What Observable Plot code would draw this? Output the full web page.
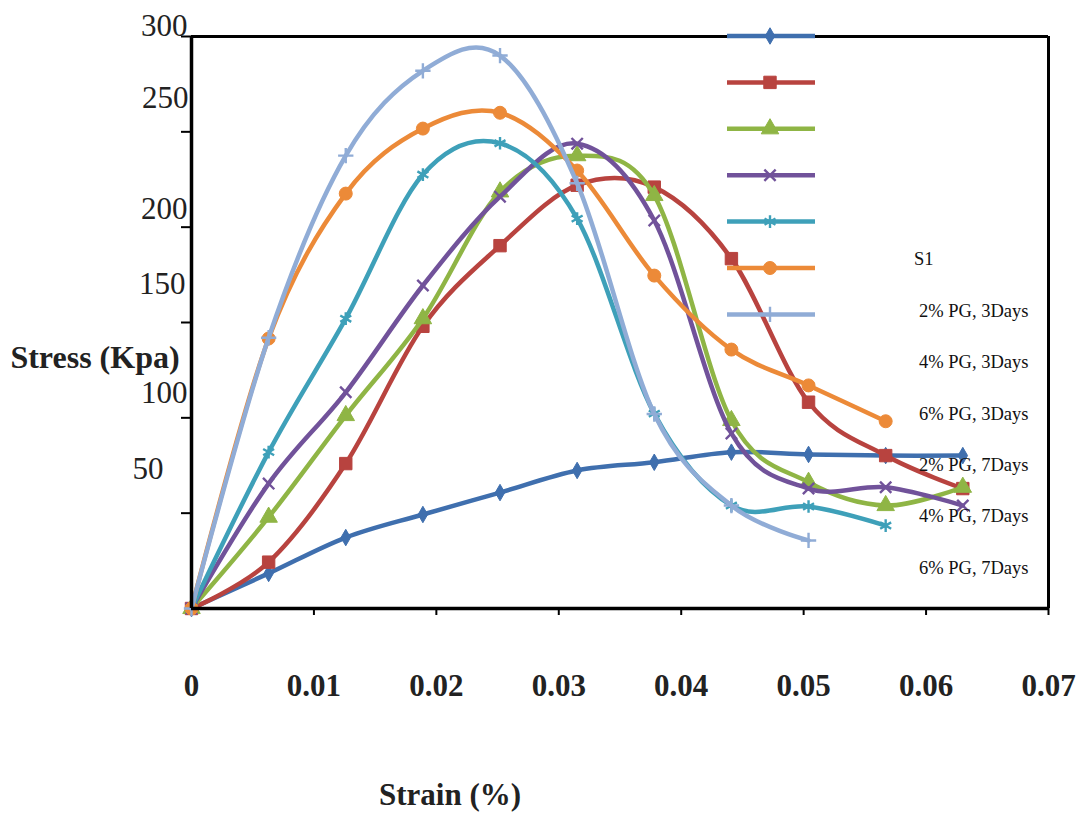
<!DOCTYPE html>
<html><head><meta charset="utf-8">
<script src="https://cdn.jsdelivr.net/npm/d3@7"></script>
<script src="https://cdn.jsdelivr.net/npm/@observablehq/plot@0.6"></script>
<style>body{margin:0;background:#fff} #chart{width:1081px;height:813px}</style>
</head><body><div id="chart"></div>
<script>
// ---- data ----
const strain = [0, 0.0063, 0.0126, 0.0189, 0.0252, 0.0315, 0.0378, 0.0441, 0.0504, 0.0567, 0.063];
const seriesNames = ["S1", "2% PG, 3Days", "4% PG, 3Days", "6% PG, 3Days", "2% PG, 7Days", "4% PG, 7Days", "6% PG, 7Days"];
const sS1   = [0, 18.4, 37.2, 49.3, 60.8, 72.4, 76.7, 82, 80.8, 80.2, 80.2];
const s2PG3 = [0, 24.3, 76, 148, 190.3, 222, 221, 183.5, 108.2, 80.2, 62.9];
const s4PG3 = [0, 47.9, 101.2, 152, 218.5, 237.5, 216.6, 98.6, 66.2, 54, 63.6];
const s6PG3 = [0, 65.5, 113.4, 169.4, 216, 243.8, 203.5, 91.8, 62.9, 63.6, 54];
const s2PG7 = [0, 82, 152, 227.6, 244, 204.5, 102.2, 54, 53.5, 43.5];
const s4PG7 = [0, 141.6, 217.6, 251.7, 260, 229.7, 174.6, 135.8, 117, 98.2];
const s6PG7 = [0, 142, 237.5, 282, 290, 223, 102, 54, 35.7];
const xTicks = [0, 0.01, 0.02, 0.03, 0.04, 0.05, 0.06, 0.07];
const yTicks = [50, 100, 150, 200, 250, 300];
const xTitle = "Strain (%)";
const yTitle = "Stress (Kpa)";

// ---- styles / layout ----
const seriesValues = [sS1, s2PG3, s4PG3, s6PG3, s2PG7, s4PG7, s6PG7];
const colors  = ["#3f6fae", "#b8433f", "#8fb545", "#71529a", "#3ea0b9", "#ec8a38", "#90acd6"];
const symbols = ["diamond", "square", "triangle", "times", "asterisk", "circle", "plus"];
const filled  = [true, true, true, false, false, true, false];
const radii   = [5, 7, 6.5, 5.2, 6, 6.5, 5];
// irregular tick label placement seen in the reference (right edge offset, vertical offset)
const yLabelDx = [-28, -4, -6, -4, -3, -4];
const yLabelDy = [-44, -24.5, -38, -18, -33.5, -10.5];
const serif = "'Liberation Serif', 'Times New Roman', serif";

const rows = seriesNames.flatMap((name, i) =>
  seriesValues[i].map((v, j) => ({series: name, idx: i, strain: strain[j], stress: v})));

const seriesMarks = seriesNames.flatMap((name, i) => {
  const d = rows.filter(r => r.idx === i);
  return [
    Plot.line(d, {x: "strain", y: "stress", stroke: colors[i], strokeWidth: 4.5, curve: "cardinal", strokeLinejoin: "round"}),
    Plot.dot(d, {x: "strain", y: "stress", symbol: symbols[i], r: radii[i],
      fill: filled[i] ? colors[i] : "none", stroke: colors[i], strokeWidth: filled[i] ? 1 : 2.4})
  ];
});

const plot = Plot.plot({
  width: 1081, height: 813,
  marginLeft: 191, marginRight: 33, marginTop: 36, marginBottom: 205,
  x: {domain: [0, 0.07]},
  y: {domain: [0, 300]},
  style: {fontFamily: serif, background: "white", color: "black", overflow: "visible"},
  marks: [
    Plot.axisY({ticks: yTicks, tickSize: 10, strokeWidth: 2, tickFormat: () => "", label: null}),
    Plot.axisX({ticks: xTicks, tickSize: 7, strokeWidth: 2, tickPadding: 58, fontSize: 31, fontWeight: "bold",
      tickFormat: d => d === 0 ? "0" : d.toFixed(2), label: null, fill: "#222"}),
    ...yTicks.map((v, i) => Plot.text([v], {y: d => d, frameAnchor: "left", textAnchor: "end",
      dx: yLabelDx[i], dy: yLabelDy[i], fontSize: 31, text: d => String(d), fill: "#222"})),
    Plot.ruleY([300], {strokeWidth: 3}),
    Plot.ruleX([0.07], {strokeWidth: 3}),
    ...seriesMarks,
    Plot.ruleX([0], {strokeWidth: 3.5}),
    Plot.ruleY([0], {strokeWidth: 3.5})
  ]
});

document.getElementById("chart").appendChild(plot);

// ---- legend and axis titles ----
const svg = d3.select(plot);
const lg = svg.append("g");
seriesNames.forEach((name, i) => {
  const y = 36 + 46.4 * i;
  lg.append("line").attr("x1", 727).attr("x2", 815).attr("y1", y).attr("y2", y)
    .attr("stroke", colors[i]).attr("stroke-width", 4.5);
  const symType = {diamond: d3.symbolDiamond, square: d3.symbolSquare, triangle: d3.symbolTriangle,
    times: d3.symbolTimes, asterisk: d3.symbolAsterisk, circle: d3.symbolCircle, plus: d3.symbolPlus}[symbols[i]];
  lg.append("path").attr("d", d3.symbol(symType, Math.PI * radii[i] * radii[i])())
    .attr("transform", `translate(770,${y})`)
    .attr("fill", filled[i] ? colors[i] : "none").attr("stroke", colors[i])
    .attr("stroke-width", filled[i] ? 1 : 2.4);
  lg.append("text").attr("x", i === 0 ? 914 : 919).attr("y", 259 + 51.4 * i).attr("dy", "0.35em")
    .attr("text-anchor", "start").attr("font-size", 18.5).attr("fill", "#111").text(name);
});
svg.append("text").attr("x", 95).attr("y", 357).attr("dy", "0.35em").attr("text-anchor", "middle")
  .attr("font-size", 32).attr("font-weight", "bold").attr("fill", "#222").text(yTitle);
svg.append("text").attr("x", 450).attr("y", 794).attr("dy", "0.35em").attr("text-anchor", "middle")
  .attr("font-size", 31).attr("font-weight", "bold").attr("fill", "#222").text(xTitle);
</script>
</body></html>
